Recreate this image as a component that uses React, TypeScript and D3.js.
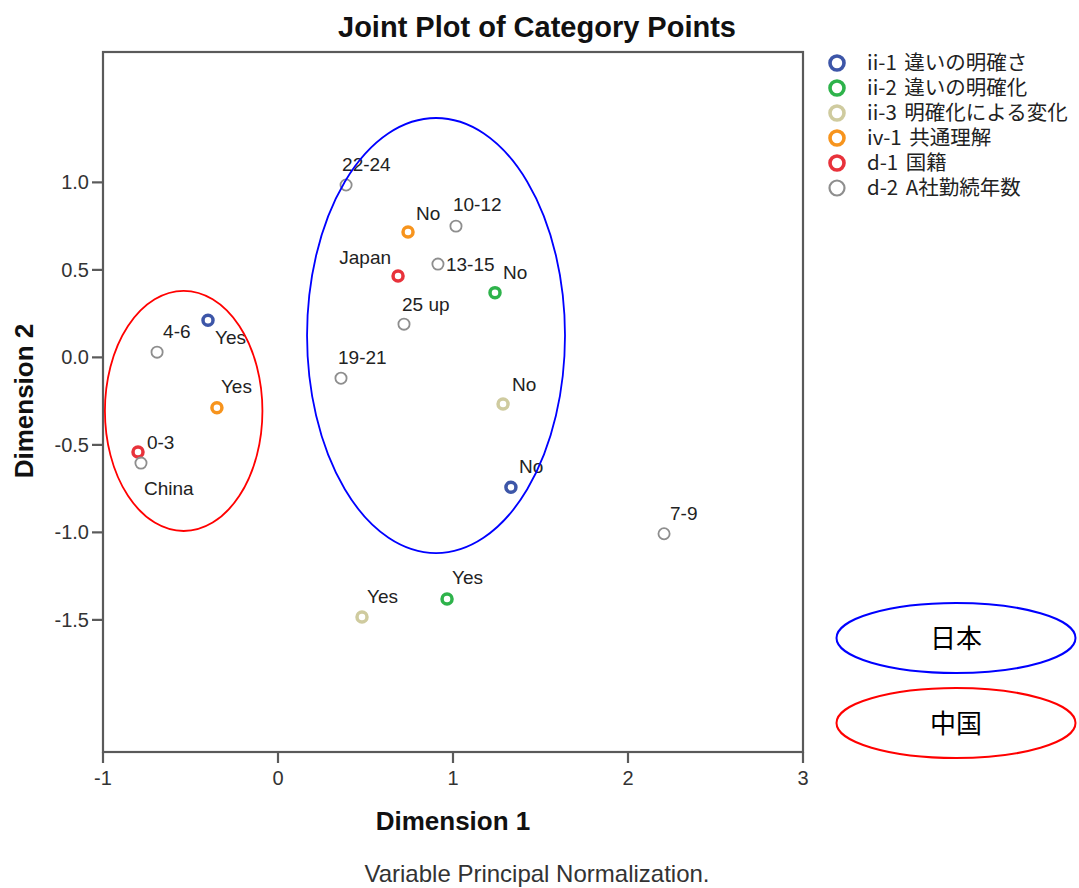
import React from "react"
import * as d3 from "d3"

// legend / variables
const seriesNames = [
    "ii-1 違いの明確さ",
    "ii-2 違いの明確化",
    "ii-3 明確化による変化",
    "iv-1 共通理解",
    "d-1 国籍",
    "d-2 A社勤続年数",
]
const seriesColors = ["#3d56a8", "#2eb34b", "#cfcb9f", "#f7941d", "#e8323b", "#8e8e8e"]

// category points (series index, label, dimension 1, dimension 2)
const pointSeries = [0, 0, 1, 1, 2, 2, 3, 3, 4, 4, 5, 5, 5, 5, 5, 5, 5, 5]
const pointLabels = [
    "Yes", "No",
    "Yes", "No",
    "Yes", "No",
    "Yes", "No",
    "China", "Japan",
    "0-3", "4-6", "7-9", "10-12", "13-15", "19-21", "22-24", "25 up",
]
const dim1 = [
    -0.40, 1.331,
    0.966, 1.24,
    0.48, 1.286,
    -0.349, 0.743,
    -0.8, 0.686,
    -0.783, -0.691, 2.206, 1.017, 0.914, 0.36, 0.389, 0.72,
]
const dim2 = [
    0.212, -0.742,
    -1.381, 0.37,
    -1.484, -0.267,
    -0.288, 0.716,
    -0.541, 0.465,
    -0.604, 0.03, -1.008, 0.75, 0.533, -0.119, 0.985, 0.19,
]

// where SPSS put each label, in px from its point
const labelDx = [7, 8, 5, 8, 5, 9, 4, 8, 6, -7, 6, 6, 6, -3, 8, -3, -4, -2]
const labelDy = [24, -14, -15, -14, -14, -13, -15, -12, 43, -12, -14, -14, -14, -15, 7, -14, -14, -13]
const labelAnchor = ["start", "start", "start", "start", "start", "start", "start", "start", "start", "end",
    "start", "start", "start", "start", "start", "start", "start", "start"]

const xTicks = [-1, 0, 1, 2, 3]
const yTicks = [1.0, 0.5, 0.0, -0.5, -1.0, -1.5]

// hand drawn group ellipses (data units): cx, cy, rx, ry
const groupNames = ["日本", "中国"]
const groupColors = ["#0000ff", "#ff0000"]
const groupCx = [0.903, -0.539]
const groupCy = [0.125, -0.306]
const groupRx = [0.737, 0.45]
const groupRy = [1.243, 0.686]

const W = 1079
const H = 888
const left = 103, right = 803, top = 52, bottom = 752

const arial = "'Liberation Sans', Arial, sans-serif"
const jp = "'Noto Sans CJK JP', sans-serif"

// SPSS uses a plain hyphen for negatives
const fmt = (f: string) => (v: number) => d3.format(f)(v).replace("\u2212", "-")

export default function App() {
    const x = d3.scaleLinear().domain([-1, 3]).range([left, right])
    const y = d3.scaleLinear().domain([-2.255, 1.745]).range([bottom, top])
    const unitX = x(1) - x(0)
    const unitY = y(0) - y(1)
    const frame = "#5a5a5a"

    return (
        <svg width={W} height={H} style={{ position: "absolute", left: 0, top: 0, background: "#fff" }}>
            <text x={537} y={37} textAnchor="middle" fontFamily={arial} fontWeight="bold" fontSize={29} fill="#111">
                Joint Plot of Category Points
            </text>

            {/* frame */}
            <rect x={left} y={top} width={right - left} height={bottom - top} fill="none" stroke={frame} strokeWidth={2.2} />

            {xTicks.map(t => (
                <g key={"x" + t}>
                    <line x1={x(t)} x2={x(t)} y1={bottom} y2={bottom + 11} stroke={frame} strokeWidth={2.2} />
                    <text x={x(t)} y={785} textAnchor="middle" fontFamily={arial} fontSize={20} fill="#333">
                        {fmt("d")(t)}
                    </text>
                </g>
            ))}
            {yTicks.map(t => (
                <g key={"y" + t}>
                    <line x1={left - 11} x2={left} y1={y(t)} y2={y(t)} stroke={frame} strokeWidth={2.2} />
                    <text x={89} y={y(t) + 7} textAnchor="end" fontFamily={arial} fontSize={20} fill="#333">
                        {fmt(".1f")(t)}
                    </text>
                </g>
            ))}

            <text x={(left + right) / 2} y={830} textAnchor="middle" fontFamily={arial} fontWeight="bold" fontSize={26} fill="#111">
                Dimension 1
            </text>
            <text transform="translate(33,401) rotate(-90)" textAnchor="middle" fontFamily={arial} fontWeight="bold" fontSize={26} fill="#111">
                Dimension 2
            </text>

            {/* points */}
            {pointLabels.map((lab, i) => {
                const s = pointSeries[i]
                const gray = s === 5
                return (
                    <g key={"p" + i}>
                        <circle cx={x(dim1[i])} cy={y(dim2[i])} r={gray ? 5.6 : 5}
                            fill="none" stroke={seriesColors[s]} strokeWidth={gray ? 1.8 : 3.5} />
                        <text x={x(dim1[i]) + labelDx[i]} y={y(dim2[i]) + labelDy[i]}
                            textAnchor={labelAnchor[i] as any} fontFamily={arial} fontSize={19} fill="#222">
                            {lab}
                        </text>
                    </g>
                )
            })}

            {/* group ellipses */}
            {groupNames.map((g, i) => (
                <ellipse key={"e" + g} cx={x(groupCx[i])} cy={y(groupCy[i])}
                    rx={groupRx[i] * unitX} ry={groupRy[i] * unitY}
                    fill="none" stroke={groupColors[i]} strokeWidth={1.8} />
            ))}

            {/* legend */}
            {seriesNames.map((n, i) => (
                <g key={"l" + i} transform={`translate(837,${63 + i * 25})`}>
                    <circle r={i === 5 ? 7.5 : 7} fill="none" stroke={seriesColors[i]} strokeWidth={i === 5 ? 2.2 : 3.6} />
                    <text x={30} y={7} fontFamily={jp} fontSize={20.5} fill="#222" style={{ wordSpacing: "3px" }}>{n}</text>
                </g>
            ))}

            {/* group key */}
            {groupNames.map((g, i) => (
                <g key={"k" + g} transform={`translate(956,${638 + i * 85})`}>
                    <ellipse rx={119.5} ry={35} fill="none" stroke={groupColors[i]} strokeWidth={2} />
                    <text y={9.5} textAnchor="middle" fontFamily={jp} fontSize={26} fill="#000">{g}</text>
                </g>
            ))}

            <text x={537} y={882} textAnchor="middle" fontFamily={arial} fontSize={24} fill="#333">
                Variable Principal Normalization.
            </text>
        </svg>
    )
}
